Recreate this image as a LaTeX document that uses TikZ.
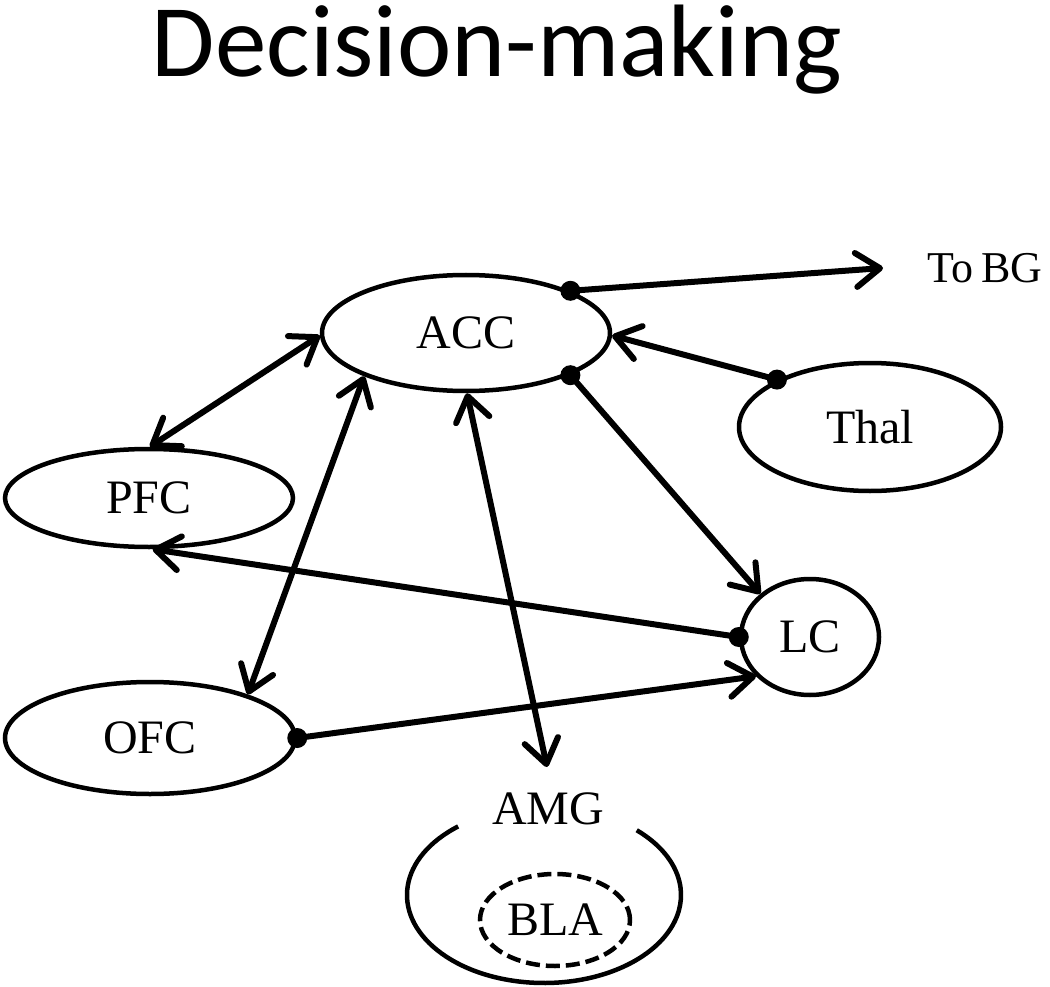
\documentclass[tikz,border=0pt]{standalone}
\usepackage{fontspec}
\setmainfont{Liberation Serif}
\newfontfamily\titlefont{Carlito}
\usetikzlibrary{arrows.meta,shapes.geometric,calc}
\begin{document}
\begin{tikzpicture}[x=1pt,y=-1pt,
  region/.style={ellipse, draw, line width=4.5pt, inner sep=0pt, font=\fontsize{48}{56}\selectfont},
  conn/.style={line width=6pt},
  barb/.tip={Straight Barb[length=24pt,width=34pt,round]},
  tipend/.style={-barb},
  tipboth/.style={barb-barb},
  lbl/.style={font=\fontsize{48}{56}\selectfont, inner sep=0pt},
]
\useasboundingbox (0,0) rectangle (1050,987);
\node[font=\titlefont\fontsize{103}{110}\selectfont, anchor=base, inner sep=0pt] (title) at (497,77) {Decision-making};

\node[region, minimum width=288pt, minimum height=116pt] (acc) at (466,333) {ACC};
\node[region, minimum width=262pt, minimum height=128pt] (thal) at (870,427) {Thal};
\node[region, minimum width=288pt, minimum height=98pt] (pfc) at (149,498) {PFC};
\node[region, minimum width=138pt, minimum height=116pt] (lc) at (810,637) {LC};
\node[region, minimum width=290pt, minimum height=112pt] (ofc) at (150,738) {OFC};
\node[lbl] (amg) at (548,809) {AMG};
\node[region, dashed, dash pattern=on 14pt off 6pt, minimum width=150pt, minimum height=92pt] (bla) at (555,920) {BLA};
\node[font=\fontsize{44}{50}\selectfont, inner sep=0pt] (tobg) at (985,268) {To\hspace{-0.08em} BG};

\coordinate (amgc) at (544,895);
\draw[line width=4.5pt] ([shift={(128.8:137pt and 88pt)}]amgc) arc[start angle=128.8, end angle=407.4, x radius=137pt, y radius=88pt];

\coordinate (bgend) at (883,268);
\coordinate (amgtip) at (547,767);

\draw[conn, tipend] (acc.22) -- (bgend);
\draw[conn, tipend] (thal.153) -- (acc.-1);
\draw[conn, tipend] (acc.-22) -- (lc.139);
\draw[conn, tipend] (lc.180) -- (pfc.-86);
\draw[conn, tipboth] (pfc.89) -- (acc.181);
\draw[conn, tipboth] (acc.203) -- (ofc.24);
\draw[conn, tipboth] (acc.-89) -- (amgtip);
\draw[conn, tipend] (ofc.0) -- (lc.216);

\fill (acc.22) circle (10pt);
\fill (thal.153) circle (10pt);
\fill (acc.-22) circle (10pt);
\fill (lc.180) circle (10pt);
\fill (ofc.0) circle (10pt);
\end{tikzpicture}
\end{document}
